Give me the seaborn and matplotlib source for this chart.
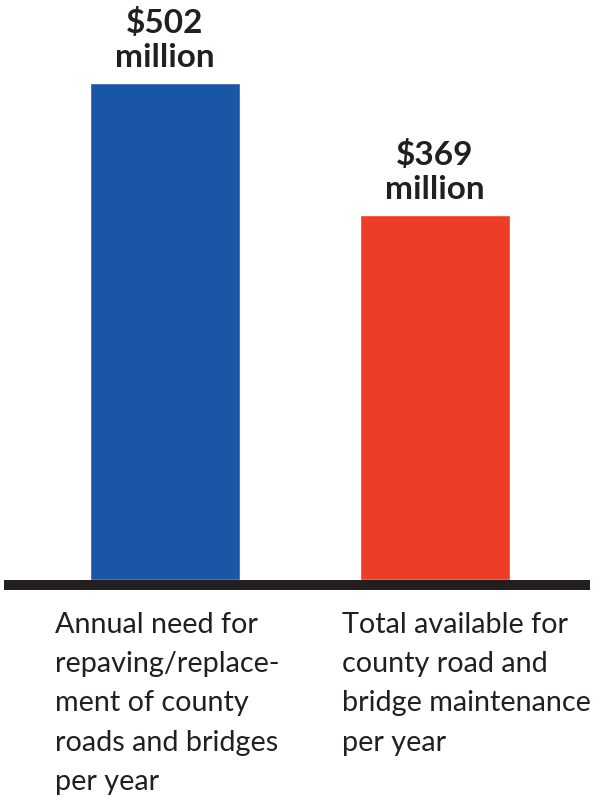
import matplotlib
matplotlib.use("Agg")
import matplotlib.pyplot as plt
import seaborn as sns
import pandas as pd

categories = ["Annual need for\nrepaving/replace-\nment of county\nroads and bridges\nper year",
              "Total available for\ncounty road and\nbridge maintenance\nper year"]
values = [502, 369]
value_labels = ["$502\nmillion", "$369\nmillion"]
colors = ["#1957a6", "#ee3d26"]

sns.set_theme(style="white")
plt.rcParams['font.family'] = ['Lato', 'DejaVu Sans']

W, H = 595, 796
fig = plt.figure(figsize=(W / 100, H / 100), dpi=100)

# axes: bottom at y=580px from top, top at 0
ax = fig.add_axes([0, (H - 580) / H, 1, 580 / H])
df = pd.DataFrame({"cat": categories, "val": values})
sns.barplot(data=df, x="cat", y="val", hue="cat", palette=colors, legend=False,
            width=0.555, ax=ax, saturation=1)
ax.set_ylim(0, 502 * 580 / 497)
ax.set_xlim(-165 / 270, (595 - 165) / 270)
ax.axis("off")

# baseline
fig.add_artist(plt.Line2D([4 / W, 590 / W], [(H - 585) / H] * 2, color="#231f20",
                          linewidth=10 * 0.72, solid_capstyle="butt"))

# value labels
for i, (v, lab) in enumerate(zip(values, value_labels)):
    ax.annotate(lab, xy=(i, v), xytext=(0, 8), textcoords="offset points",
                ha="center", va="bottom", fontsize=24, fontweight="bold",
                color="#231f20", linespacing=1.2)

# category labels
xs = [55, 342]
for x, c in zip(xs, categories):
    fig.text(x / W, (H - 612) / H, c, ha="left", va="top", fontsize=20.7,
             color="#231f20", linespacing=1.63)

fig.savefig("out.png", dpi=100)
